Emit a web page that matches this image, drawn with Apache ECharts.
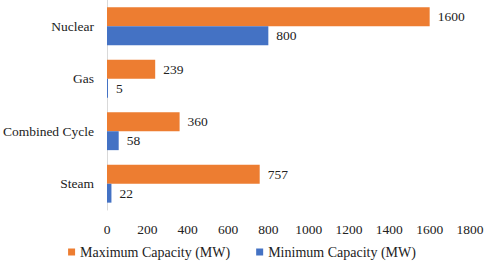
<!DOCTYPE html>
<html>
<head>
<meta charset="utf-8">
<script src="https://cdn.jsdelivr.net/npm/echarts@6/dist/echarts.min.js"></script>
<style>
  html, body { margin: 0; padding: 0; background: #fff; }
  #chart { width: 484px; height: 266px; }
</style>
</head>
<body>
<div id="chart"></div>
<script>
const categories = ['Nuclear', 'Gas', 'Combined Cycle', 'Steam'];
const maxCapacity = [1600, 239, 360, 757];
const minCapacity = [800, 5, 58, 22];
const xTicks = [0, 200, 400, 600, 800, 1000, 1200, 1400, 1600, 1800];

const font = 'Liberation Serif';
const fs = 13.5;
const chart = echarts.init(document.getElementById('chart'), null, { renderer: 'svg' });

chart.setOption({
  animation: false,
  textStyle: { fontFamily: font },
  grid: { left: 107, right: 14, top: 0, bottom: 56, containLabel: false, outerBoundsMode: 'none' },
  legend: {
    bottom: 2,
    left: 'center',
    itemWidth: 7,
    itemHeight: 7,
    itemGap: 26,
    icon: 'rect',
    textStyle: { fontFamily: font, fontSize: 14, color: '#222' },
    data: ['Maximum Capacity (MW)', 'Minimum Capacity (MW)']
  },
  xAxis: {
    type: 'value',
    min: xTicks[0],
    max: xTicks[xTicks.length - 1],
    interval: 200,
    axisLine: { show: false },
    axisTick: { show: false },
    splitLine: { show: false },
    axisLabel: { fontFamily: font, fontSize: fs, color: '#222', margin: 12, formatter: v => String(v) }
  },
  yAxis: {
    type: 'category',
    inverse: true,
    data: categories,
    axisLine: { show: true, lineStyle: { color: '#d9d9d9', width: 1 } },
    axisTick: { show: false },
    axisLabel: { fontFamily: font, fontSize: fs, color: '#222', margin: 13 }
  },
  series: [
    {
      name: 'Maximum Capacity (MW)',
      type: 'bar',
      data: maxCapacity,
      barGap: '0%',
      barCategoryGap: '28%',
      itemStyle: { color: '#ED7D31' },
      label: { show: true, position: 'right', distance: 8, fontFamily: font, fontSize: fs, color: '#222' }
    },
    {
      name: 'Minimum Capacity (MW)',
      type: 'bar',
      data: minCapacity,
      barGap: '0%',
      barCategoryGap: '28%',
      itemStyle: { color: '#4472C4' },
      label: { show: true, position: 'right', distance: 8, fontFamily: font, fontSize: fs, color: '#222' }
    }
  ]
});
</script>
</body>
</html>
